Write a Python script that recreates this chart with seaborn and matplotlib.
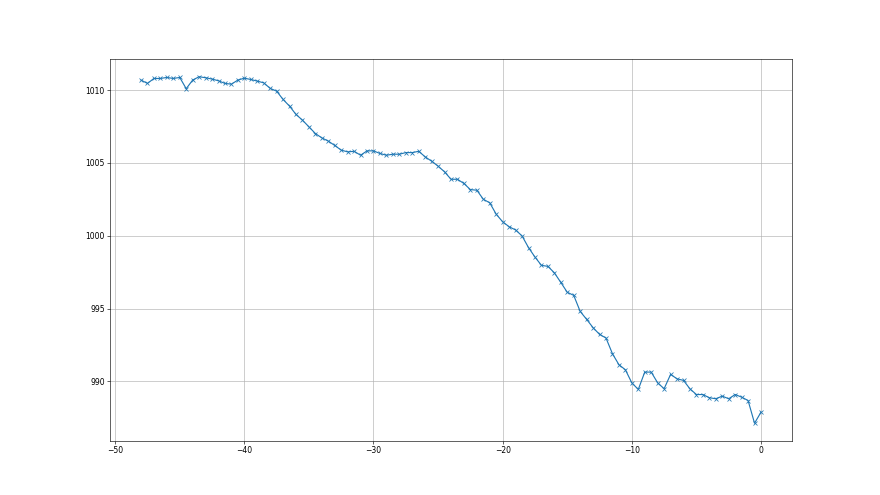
import numpy as np
import matplotlib
matplotlib.use("Agg")
import matplotlib.pyplot as plt
import seaborn as sns

# 时间（小时，相对于当前）与气压读数
hours = np.arange(-48, 0.5, 0.5)
pressure = [
    1010.69, 1010.46, 1010.80, 1010.80, 1010.87, 1010.80, 1010.87, 1010.10, 1010.69,
    1010.92, 1010.85, 1010.76, 1010.64, 1010.46, 1010.41, 1010.69, 1010.82,
    1010.73, 1010.62, 1010.50, 1010.12, 1009.93, 1009.36, 1008.90, 1008.33,
    1007.94, 1007.48, 1007.02, 1006.72, 1006.50, 1006.20, 1005.88, 1005.76,
    1005.80, 1005.53, 1005.83, 1005.83, 1005.65, 1005.53, 1005.60, 1005.60,
    1005.71, 1005.71, 1005.80, 1005.42, 1005.12, 1004.78, 1004.39, 1003.88,
    1003.88, 1003.59, 1003.17, 1003.13, 1002.51, 1002.26, 1001.48, 1000.96,
    1000.62, 1000.40, 999.99, 999.19, 998.54, 997.97, 997.90, 997.46,
    996.80, 996.12, 995.91, 994.81, 994.26, 993.69, 993.23, 992.98,
    991.90, 991.15, 990.80, 989.90, 989.45, 990.64, 990.64, 989.90,
    989.50, 990.48, 990.18, 990.07, 989.49, 989.10, 989.10, 988.88,
    988.81, 988.99, 988.81, 989.10, 988.92, 988.69, 987.13, 987.89,
]

fig, ax = plt.subplots(figsize=(16, 9), dpi=55)
sns.lineplot(x=hours, y=pressure, ax=ax, color="tab:blue", marker="x",
             markeredgecolor="tab:blue", markeredgewidth=1.0, linewidth=1.5)
ax.grid(True)
ax.set_axisbelow(True)

fig.savefig("out.png", dpi=55)
